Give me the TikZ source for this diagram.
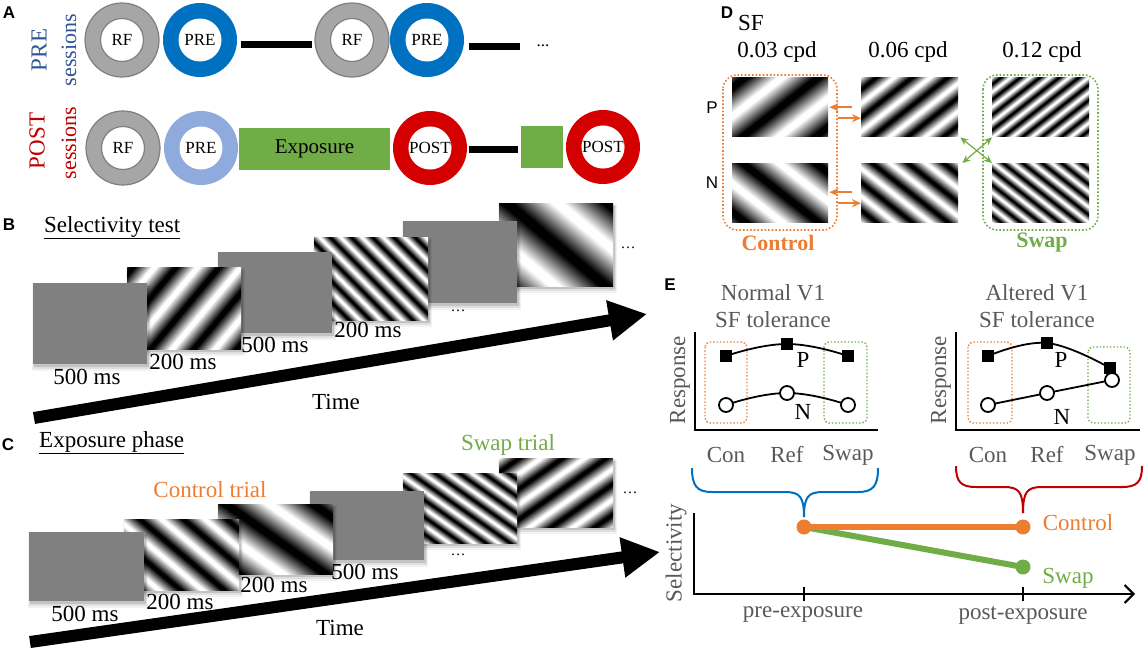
\documentclass[tikz,border=0pt]{standalone}
\usepackage{fontspec}
\setmainfont{Liberation Serif}
\newfontfamily\arialf{Liberation Sans}
\usetikzlibrary{arrows.meta,calc}
\definecolor{cGray}{HTML}{A6A6A6}
\definecolor{cGrayD}{HTML}{7F7F7F}
\definecolor{cBlue}{HTML}{0070C0}
\definecolor{cLBlue}{HTML}{8FAADC}
\definecolor{cRed}{HTML}{D40000}
\definecolor{cTBlue}{HTML}{2F5597}
\definecolor{cTRed}{HTML}{C00000}
\definecolor{cGreen}{HTML}{70AD47}
\definecolor{cOrange}{HTML}{ED7D31}
\definecolor{cStim}{HTML}{808080}
\definecolor{cText}{HTML}{595959}
\pgfdeclarehorizontalshading{bwgrat}{100bp}{color(0bp)=(black); color(31bp)=(black); color(50bp)=(gray); color(69bp)=(white); color(100bp)=(white)}
\pgfdeclarehorizontalshading{wbgrat}{100bp}{color(0bp)=(white); color(31bp)=(white); color(50bp)=(gray); color(69bp)=(black); color(100bp)=(black)}
% grating: x1,y1,x2,y2,rotation,period,name
\newcommand\grat[7]{%
  \node[inner sep=0pt, minimum width={#3-#1}, minimum height={#4-#2}, anchor=north west] (#7) at (#1,#2) {};
  \pgfmathtruncatemacro\nk{80/#6+2}%
  \begin{scope}
    \clip (#1,#2) rectangle (#3,#4);
    \begin{scope}[transform canvas={shift={({(#1+#3)/2},{(#2+#4)/2})}, rotate=#5}]
      \foreach \k in {-\nk,...,\nk} {
        \shade[shading=bwgrat] ({\k*#6},-130) rectangle ({\k*#6+#6/2+0.4},130);
        \shade[shading=wbgrat] ({\k*#6+#6/2},-130) rectangle ({(\k+1)*#6+0.4},130);
      }
    \end{scope}
  \end{scope}}
\newcommand\shbox[4]{%
  \fill[black,opacity=.05] (#1-1,#2+1) rectangle (#3+4,#4+7);
  \fill[black,opacity=.08] (#1,#2+2) rectangle (#3+3,#4+5);
  \fill[black,opacity=.12] (#1+1,#2+3) rectangle (#3+2,#4+3);}
\begin{document}
\begin{tikzpicture}[x=1pt,y=-1pt,
 every node/.style={inner sep=1pt},
 tx/.style={font=\fontsize{23}{24}\selectfont},
 txb/.style={font=\bfseries\fontsize{22}{24}\selectfont},
 txd/.style={font=\fontsize{15}{16}\selectfont},
 panel/.style={font=\arialf\bfseries\fontsize{17}{18}\selectfont, inner sep=0pt},
 ring/.style={circle, inner sep=0pt, minimum size=74pt, fill=#1},
 hole/.style={circle, inner sep=0pt, minimum size=43pt, fill=white, font=\fontsize{17}{18}\selectfont},
 conn/.style={line width=7pt},
 stim/.style={fill=cStim},
 bigarrow/.style={line width=12pt, -{Triangle[length=38pt,width=38pt]}},
 oarr/.style={cOrange, line width=1.8pt, -{Stealth[length=9pt,width=8pt]}},
 garr/.style={cGreen, line width=1.2pt, {Stealth[length=8pt,width=7pt]}-{Stealth[length=8pt,width=7pt]}},
 obox/.style={cOrange, dotted, line width=1.6pt, rounded corners=14pt},
 gbox/.style={cGreen, dotted, line width=1.6pt, rounded corners=14pt},
 oboxs/.style={cOrange, dotted, line width=1.4pt, rounded corners=5pt},
 gboxs/.style={cGreen, dotted, line width=1.4pt, rounded corners=5pt},
 axis/.style={line width=2pt},
 sq/.style={rectangle, fill=black, minimum size=12pt, inner sep=0pt},
 cir/.style={circle, draw=black, fill=white, line width=1.8pt, minimum size=14pt, inner sep=0pt},
 dot/.style={circle, minimum size=15pt, inner sep=0pt, fill=#1},
 ]
\useasboundingbox (0,0) rectangle (1145,656);
\fill[white] (0,0) rectangle (1145,656);

% ---------------- Panel A ----------------
\node[panel] (lA) at (9,13) {A};
\node[tx, font=\fontsize{23}{24}\selectfont, text=cTBlue, rotate=90] (preS) at (39,50) {PRE};
\node[tx, font=\fontsize{22}{24}\selectfont, text=cTBlue, rotate=90] (preS2) at (69,50) {sessions};
\node[tx, font=\fontsize{23}{24}\selectfont, text=cTRed, rotate=90] (postS) at (37,141) {POST};
\node[tx, font=\fontsize{22}{24}\selectfont, text=cTRed, rotate=90] (postS2) at (69,143) {sessions};

\node[ring=cGray, draw=cGrayD, line width=1.2pt] (rf1) at (122,40) {};
\node[hole, draw=cGrayD, line width=1.2pt] (rf1t) at (rf1) {RF};
\node[ring=cBlue] (pre1) at (200,40) {};
\node[hole] (pre1t) at (pre1) {PRE};
\node[ring=cGray, draw=cGrayD, line width=1.2pt] (rf2) at (352,40) {};
\node[hole, draw=cGrayD, line width=1.2pt] (rf2t) at (rf2) {RF};
\node[ring=cBlue] (pre2) at (427,40) {};
\node[hole] (pre2t) at (pre2) {PRE};
\node[font=\fontsize{17}{18}\selectfont] (dotsA) at (543,46) {...};
\draw[conn] ($(pre1.east)+(4,4)$) -- ($(rf2.west)+(-2,4)$);
\draw[conn] ($(pre2.east)+(5,6)$) -- ($(dotsA.west)+(-15,0)$);

\node[ring=cGray, draw=cGrayD, line width=1.2pt] (rf3) at (123,148) {};
\node[hole, draw=cGrayD, line width=1.2pt] (rf3t) at (rf3) {RF};
\node[ring=cLBlue] (pre3) at (201,148) {};
\node[hole] (pre3t) at (pre3) {PRE};
\node[fill=cGreen, minimum width=151pt, minimum height=42pt, inner sep=0pt, font=\fontsize{21}{22}\selectfont] (expo) at (314.5,149) {Exposure};
\node[ring=cRed] (post1) at (430,148) {};
\node[hole] (post1t) at (post1) {POST};
\node[fill=cGreen, minimum width=42pt, minimum height=42pt, inner sep=0pt] (expo2) at (542,147) {};
\node[ring=cRed] (post2) at (603,147) {};
\node[hole] (post2t) at (post2) {POST};
\draw[conn] ($(post1.east)+(2,1)$) -- ($(expo2.west)+(-3,2)$);

% ---------------- Panel B ----------------
\node[panel] (lB) at (9,225) {B};
\node[tx, anchor=base west] (tB) at (43,232) {\underline{Selectivity test}};
\shbox{499}{203}{613}{286}
\grat{499}{203}{613}{286}{50}{65}{gB3}
\shbox{403}{221}{517}{303}
\fill[stim] (403,221) rectangle (517,303);
\shbox{314}{237}{428}{320}
\grat{314}{237}{428}{320}{45}{15}{gB2}
\shbox{218}{252}{332}{333}
\fill[stim] (218,252) rectangle (332,333);
\shbox{127}{267}{241}{349}
\grat{127}{267}{241}{349}{-40}{33}{gB1}
\shbox{33}{283}{147}{364}
\fill[stim] (33,283) rectangle (147,364);
\node[tx] at (87,377) {500 ms};
\node[tx] at (183,362) {200 ms};
\node[tx] at (275,345) {500 ms};
\node[tx] at (368,330) {200 ms};
\node[txd] at (458,311) {…};
\node[txd] at (628,248) {…};
\coordinate (bTail) at (34,418);
\coordinate (bHead) at (647,314);
\draw[bigarrow] (bTail) -- (bHead);
\node[tx] at (336,402) {Time};

% ---------------- Panel C ----------------
\node[panel] (lC) at (8,445) {C};
\node[tx, anchor=base west] (tC) at (38,447) {\underline{Exposure phase}};
\shbox{499}{458}{613}{527}
\grat{499}{458}{613}{527}{-55}{25}{gC4}
\shbox{403}{473}{517}{543}
\grat{403}{473}{517}{543}{55}{14}{gC3}
\shbox{310}{491}{424}{560}
\fill[stim] (310,491) rectangle (424,560);
\shbox{218}{504}{333}{574}
\grat{218}{504}{333}{574}{55}{50}{gC2}
\shbox{124}{519}{239}{590}
\grat{124}{519}{239}{590}{50}{28}{gC1}
\shbox{29}{532}{144}{601}
\fill[stim] (29,532) rectangle (144,601);
\node[tx] at (85,614) {500 ms};
\node[tx] at (180,602) {200 ms};
\node[tx] at (274,585) {200 ms};
\node[tx] at (365,572) {500 ms};
\node[txd] at (458,555) {…};
\node[txd] at (630,493) {…};
\node[tx, text=cOrange] at (210,490) {Control trial};
\node[tx, text=cGreen] at (508,445) {Swap trial};
\coordinate (cTail) at (30,642);
\coordinate (cHead) at (660,552);
\draw[bigarrow] (cTail) -- (cHead);
\node[tx] at (340,628) {Time};

% ---------------- Panel D ----------------
\node[panel] (lD) at (727,13) {D};
\node[tx, anchor=west, inner sep=0pt] at (738,23) {SF};
\node[tx] at (777,52) {0.03 cpd};
\node[tx] at (908,52) {0.06 cpd};
\node[tx] at (1042,52) {0.12 cpd};
\node[font=\arialf\fontsize{17}{18}\selectfont] at (712,108) {P};
\node[font=\arialf\fontsize{17}{18}\selectfont] at (712,183) {N};
\grat{732}{77}{828}{136}{-52}{45}{p03}
\grat{732}{163}{828}{222}{52}{45}{n03}
\grat{861}{77}{958}{136}{-52}{22}{p06}
\grat{861}{163}{958}{222}{52}{22}{n06}
\grat{992}{77}{1089}{136}{-52}{12}{p12}
\grat{992}{163}{1089}{222}{52}{12}{n12}
\draw[obox] (723,75) rectangle (837,230);
\draw[gbox] (983,75) rectangle (1098,230);
\draw[oarr] ($(p06.west)+(-9,0.5)$) -- ($(p03.east)+(1,0.5)$);
\draw[oarr] ($(p03.east)+(10,11.5)$) -- ($(p06.west)+(0,11.5)$);
\draw[oarr] ($(n06.west)+(-9,-0.5)$) -- ($(n03.east)+(1,-0.5)$);
\draw[oarr] ($(n03.east)+(10,10.5)$) -- ($(n06.west)+(0,10.5)$);
\draw[garr] ($(p06.south east)+(2,1)$) -- ($(n12.north west)+(0,0)$);
\draw[garr] ($(p12.south west)+(0,1)$) -- ($(n06.north east)+(4,0)$);
\node[txb, text=cOrange] at (778,243) {Control};
\node[txb, text=cGreen] at (1042,243) {Swap};

% ---------------- Panel E ----------------
\node[panel] (lE) at (670,285) {E};
\node[tx, text=cText] at (773,293) {Normal V1};
\node[tx, text=cText] at (773,320) {SF tolerance};
\node[tx, text=cText] at (1037,293) {Altered V1};
\node[tx, text=cText] at (1037,320) {SF tolerance};
% left plot
\node[tx, text=cText, rotate=90] at (680,380) {Response};
\draw[axis] (695,332) -- (695,430) -- (878,430);
\draw[oboxs] (705,342) rectangle (747,423);
\draw[gboxs] (824,342) rectangle (867,423);
\coordinate (lp1) at (726,356); \coordinate (lp2) at (787,344); \coordinate (lp3) at (848,356);
\coordinate (ln1) at (726,405); \coordinate (ln2) at (787,393); \coordinate (ln3) at (848,405);
\draw[line width=1.8pt] plot[smooth, tension=0.8] coordinates {(lp1) (lp2) (lp3)};
\draw[line width=1.8pt] plot[smooth, tension=0.8] coordinates {(ln1) (ln2) (ln3)};
\node[sq] (sqa) at (lp1) {}; \node[sq] (sqb) at (lp2) {}; \node[sq] (sqc) at (lp3) {};
\node[cir] (cia) at (ln1) {}; \node[cir] (cib) at (ln2) {}; \node[cir] (cic) at (ln3) {};
\node[tx] at (803,360) {P};
\node[tx] at (803,412) {N};
\node[tx, text=cText] at (726,455) {Con};
\node[tx, text=cText] at (787,455) {Ref};
\node[tx, text=cText] at (848,455) {Swap};
% right plot
\node[tx, text=cText, rotate=90] at (941,380) {Response};
\draw[axis] (956,332) -- (956,430) -- (1140,430);
\draw[oboxs] (968,342) rectangle (1012,423);
\draw[gboxs] (1088,347) rectangle (1130,423);
\coordinate (rp1) at (988,356); \coordinate (rp2) at (1047,343); \coordinate (rp3) at (1110,368);
\coordinate (rn1) at (988,405); \coordinate (rn2) at (1047,393); \coordinate (rn3) at (1112,380);
\draw[line width=1.8pt] plot[smooth, tension=0.7] coordinates {(rp1) (rp2) (rp3)};
\draw[line width=1.8pt] (rn1) -- (rn2) -- (rn3);
\node[sq] (sqd) at (rp1) {}; \node[sq] (sqe) at (rp2) {}; \node[sq] (sqf) at (rp3) {};
\node[cir] (cid) at (rn1) {}; \node[cir] (cie) at (rn2) {}; \node[cir] (cif) at (rn3) {};
\node[tx] at (1061,360) {P};
\node[tx] at (1062,417) {N};
\node[tx, text=cText] at (988,455) {Con};
\node[tx, text=cText] at (1047,455) {Ref};
\node[tx, text=cText] at (1110,455) {Swap};
% braces
\coordinate (brB) at (804,517);
\coordinate (brR) at (1023,513);
\draw[cBlue, line width=2pt] (692,468) .. controls (692,486) and (697,492) .. (712,492) -- (785,492) .. controls (800,492) and (804,497) .. (brB);
\draw[cBlue, line width=2pt] (878,468) .. controls (878,486) and (873,492) .. (858,492) -- (823,492) .. controls (808,492) and (804,497) .. (brB);
\draw[cTRed, line width=2pt] (956,466) .. controls (956,482) and (961,487) .. (976,487) -- (1004,487) .. controls (1019,487) and (1023,492) .. (brR);
\draw[cTRed, line width=2pt] (1142,466) .. controls (1142,482) and (1137,487) .. (1122,487) -- (1042,487) .. controls (1027,487) and (1023,492) .. (brR);
% selectivity plot
\node[tx, text=cText, rotate=90] at (676,553) {Selectivity};
\draw[axis, -{Straight Barb[length=9pt,width=18pt]}] (694,513) -- (694,594) -- (1135,594);
\draw[axis] (804,587) -- (804,601);
\draw[axis] (1023,587) -- (1023,601);
\node[tx, text=cText] at (803,615) {pre-exposure};
\node[tx, text=cText] at (1023,615) {post-exposure};
\coordinate (sPre) at (804,527);
\coordinate (sCon) at (1023,527);
\coordinate (sSwp) at (1023,567);
\draw[cGreen, line width=6pt] (sPre) -- (sSwp);
\draw[cOrange, line width=6pt] (sPre) -- (sCon);
\node[dot=cGreen] (dS) at (sSwp) {};
\node[dot=cOrange] (dC) at (sCon) {};
\node[dot=cOrange] (dP) at (sPre) {};
\node[tx, text=cOrange] at (1078,523) {Control};
\node[tx, text=cGreen] at (1068,578) {Swap};
\end{tikzpicture}
\end{document}
